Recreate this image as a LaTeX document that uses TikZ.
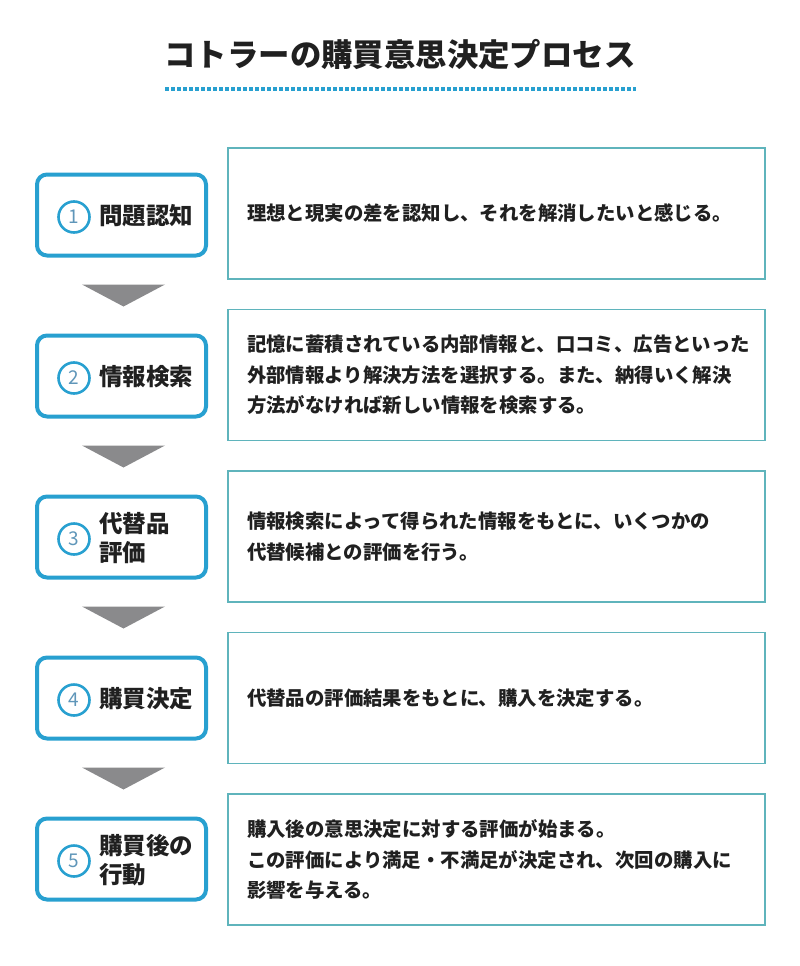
\documentclass[tikz,border=0pt]{standalone}
\usepackage{fontspec}
\usepackage{tikz}
\usetikzlibrary{calc, positioning}
\newfontfamily\jpfont{Noto Sans CJK JP}

\definecolor{stepblue}{RGB}{40,160,208}
\definecolor{descteal}{RGB}{95,180,188}
\definecolor{arrowgray}{RGB}{138,138,140}
\definecolor{numblue}{RGB}{95,150,185}
\definecolor{inkblack}{RGB}{32,32,32}

\tikzset{
  stepbox/.style = {draw=stepblue, line width=4pt, rounded corners=10pt,
                    minimum width=169pt, minimum height=81pt, inner sep=0pt},
  numring/.style = {circle, draw=stepblue, line width=2.6pt, minimum size=31pt,
                    inner sep=0pt, text=numblue, font=\jpfont\fontsize{19pt}{19pt}\selectfont},
  steplabel/.style = {anchor=west, align=left, text=inkblack, inner sep=0pt,
                    font=\jpfont\bfseries\fontsize{23.5pt}{28.5pt}\selectfont},
  descbox/.style = {draw=descteal, line width=1.4pt, minimum width=537pt, minimum height=131pt,
                    text width=499pt, inner xsep=19pt, align=left, text=inkblack,
                    font=\jpfont\bfseries\fontsize{19.4pt}{30.5pt}\selectfont},
}

\begin{document}
\begin{tikzpicture}[x=1pt, y=-1pt]
  \useasboundingbox (0,0) rectangle (800,966);

  % title
  \node[text=inkblack, font=\jpfont\bfseries\fontsize{31.4pt}{31pt}\selectfont] (title) at (400,55) {コトラーの購買意思決定プロセス};
  \draw[stepblue, line width=4pt, dash pattern=on 3.6pt off 2.4pt] (165,89) -- (636,89);

  % steps
  \node[stepbox] (s1) at (121.5,215) {};
  \node[stepbox] (s2) at (121.5,376) {};
  \node[stepbox] (s3) at (121.5,537) {};
  \node[stepbox] (s4) at (121.5,698) {};
  \node[stepbox] (s5) at (121.5,859) {};

  \node[numring] (n1) at (74,217) {1};
  \node[numring] (n2) at (74,378) {2};
  \node[numring] (n3) at (74,539) {3};
  \node[numring] (n4) at (74,700) {4};
  \node[numring] (n5) at (74,861) {5};

  \node[steplabel] (l1) at (99,216) {問題認知};
  \node[steplabel] (l2) at (99,377) {情報検索};
  \node[steplabel] (l3) at (99,538) {代替品\\評価};
  \node[steplabel] (l4) at (99,699) {購買決定};
  \node[steplabel] (l5) at (99,860) {購買後の\\行動};

  % descriptions
  \node[descbox] (d1) at (496.5,213.5) {理想と現実の差を認知し、それを解消したいと感じる。};
  \node[descbox] (d2) at (496.5,375) {記憶に蓄積されている内部情報と、口コミ、広告といった\\外部情報より解決方法を選択する。また、納得いく解決\\方法がなければ新しい情報を検索する。};
  \node[descbox] (d3) at (496.5,536.5) {情報検索によって得られた情報をもとに、いくつかの\\代替候補との評価を行う。};
  \node[descbox] (d4) at (496.5,698) {代替品の評価結果をもとに、購入を決定する。};
  \node[descbox] (d5) at (496.5,859.5) {購入後の意思決定に対する評価が始まる。\\この評価により満足・不満足が決定され、次回の購入に\\影響を与える。};

  % arrows between steps
  \coordinate (a1) at ($(s1.south)!0.5!(s2.north)$);
  \coordinate (a2) at ($(s2.south)!0.5!(s3.north)$);
  \coordinate (a3) at ($(s3.south)!0.5!(s4.north)$);
  \coordinate (a4) at ($(s4.south)!0.5!(s5.north)$);
  \fill[arrowgray] (a1) ++(-39.5,-11) -- ++(83,0) -- ++(-41.5,22) -- cycle;
  \fill[arrowgray] (a2) ++(-39.5,-11) -- ++(83,0) -- ++(-41.5,22) -- cycle;
  \fill[arrowgray] (a3) ++(-39.5,-11) -- ++(83,0) -- ++(-41.5,22) -- cycle;
  \fill[arrowgray] (a4) ++(-39.5,-11) -- ++(83,0) -- ++(-41.5,22) -- cycle;
\end{tikzpicture}
\end{document}
